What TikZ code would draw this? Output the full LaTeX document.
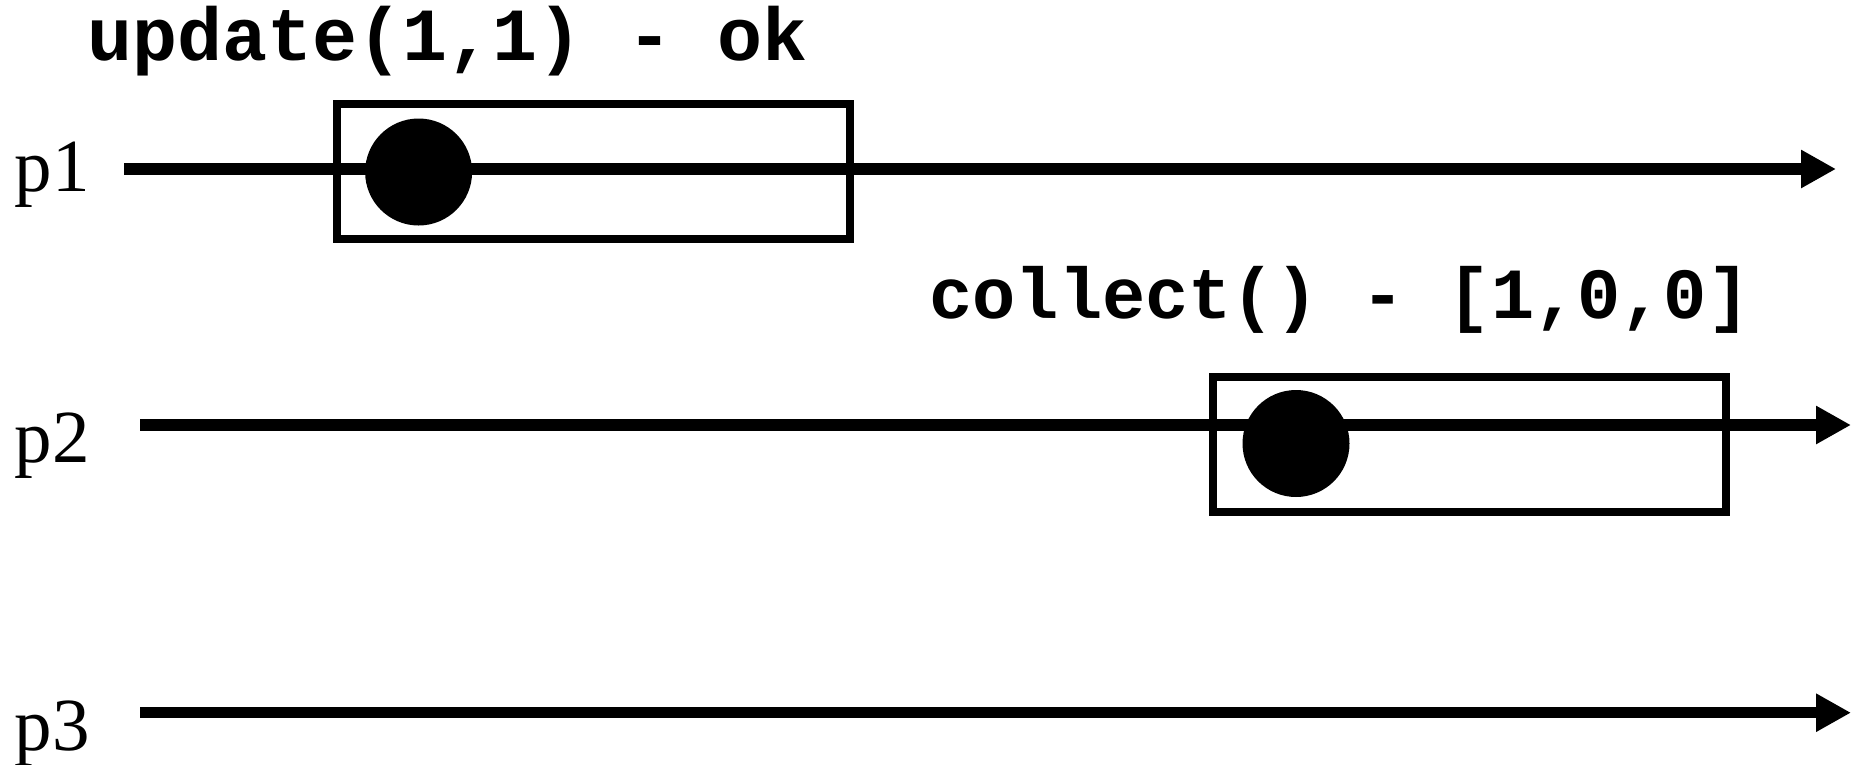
\documentclass[tikz,border=0pt]{standalone}
\usepackage{fontspec}
\setmainfont{Liberation Serif}
\newfontfamily\codefont{Liberation Mono}
\usetikzlibrary{arrows.meta}
\tikzset{
  timeline/.style={line width=11.5pt, -{Triangle[length=35pt,width=36pt]}},
  opbox/.style={draw, line width=8pt, rectangle, minimum width=513pt, minimum height=135pt, inner sep=0pt},
  opdot/.style={fill, circle, minimum size=107pt, inner sep=0pt},
  proclabel/.style={anchor=base west, inner sep=0pt, font=\fontsize{75}{80}\selectfont},
  oplabel/.style={anchor=base, inner sep=0pt, font=\codefont\bfseries\fontsize{73.5}{80}\selectfont}
}
\begin{document}
\begin{tikzpicture}[x=1pt,y=-1pt]
\useasboundingbox (0,0) rectangle (1862,764);
% process labels
\node[proclabel] (lp1) at (14.6,191.5) {p1};
\node[proclabel] (lp2) at (14.6,462) {p2};
\node[proclabel] (lp3) at (14.6,750) {p3};
% timeline end points
\coordinate (s1) at (124,169);
\coordinate (e1) at (1836,169);
\coordinate (s2) at (140,425);
\coordinate (e2) at (1851,425);
\coordinate (s3) at (140,712.7);
\coordinate (e3) at (1851,712.7);
\draw[timeline] (s1) -- (e1);
\draw[timeline] (s2) -- (e2);
\draw[timeline] (s3) -- (e3);
% operations
\node[opbox] (box1) at (593,171.8) {};
\node[opbox] (box2) at (1469.5,444.3) {};
\node[opdot] (dot1) at (418.6,172) {};
\node[opdot] (dot2) at (1296,443.5) {};
% operation labels
\node[oplabel, font=\codefont\bfseries\fontsize{75}{80}\selectfont] (op1) at (447.6,60.7) {update(1,1) - ok};
\node[oplabel, font=\codefont\bfseries\fontsize{72}{80}\selectfont] (op2) at (1340,318.3) {collect() - [1,0,0]};
\end{tikzpicture}
\end{document}
